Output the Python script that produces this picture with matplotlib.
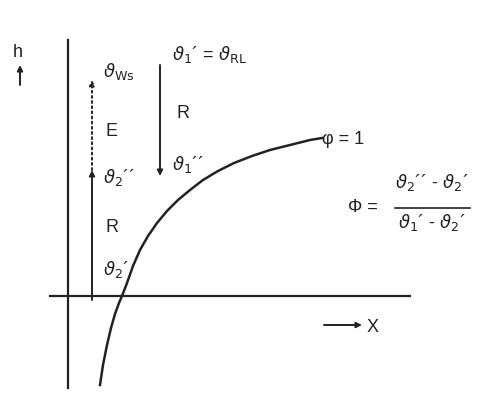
import matplotlib
matplotlib.use("Agg")
import matplotlib.pyplot as plt

plt.rcParams["font.family"] = ["Liberation Sans", "DejaVu Sans"]
plt.rcParams["mathtext.fontset"] = "dejavusans"

# curve, in pixel coordinates (x right, y down)
curve_x = [100, 103, 107, 111, 115, 119, 122, 127, 133, 140, 148, 157, 167, 178, 190, 203, 218, 234, 252, 270, 290, 310, 322]
curve_y = [385, 365, 345, 328, 314, 303, 296, 283, 266, 250, 236, 223, 211, 200, 190, 180, 171, 163, 156, 150, 145, 140, 138]

fig = plt.figure(figsize=(4.94, 4.0), dpi=100)
ax = fig.add_axes([0, 0, 1, 1])
ax.set_xlim(0, 494)
ax.set_ylim(400, 0)
ax.axis("off")

lc = "#222222"
ax.plot([68, 68], [40, 388], color=lc, lw=1.6)
ax.plot([50, 410], [296, 296], color=lc, lw=1.6)
ax.plot(curve_x, curve_y, color=lc, lw=1.8, solid_joinstyle="round")

def arrow(x0, y0, x1, y1, ls="-"):
    ax.annotate("", xy=(x1, y1), xytext=(x0, y0),
                arrowprops=dict(arrowstyle="-|>", color=lc, lw=1.4, ls=ls,
                                mutation_scale=8, shrinkA=0, shrinkB=0))

arrow(20, 85, 20, 65)
arrow(92, 300, 92, 170)
arrow(92, 170, 92, 80, ls=":")
arrow(160, 65, 160, 176)
arrow(324, 325, 362, 325)

fs = 13
ax.text(13, 57, "h", fontsize=fs, color=lc)
ax.text(103, 82, r"$\vartheta_{\mathrm{Ws}}$", fontsize=fs, color=lc, va="bottom")
ax.text(105, 132, "E", fontsize=fs, color=lc, va="center")
ax.text(103, 188, r"$\vartheta_2$´´", fontsize=fs, color=lc, va="bottom")
ax.text(105, 227, "R", fontsize=fs, color=lc, va="center")
ax.text(103, 280, r"$\vartheta_2$´", fontsize=fs, color=lc, va="bottom")
ax.text(172, 65, r"$\vartheta_1$´ = $\vartheta_{\mathrm{RL}}$", fontsize=fs, color=lc, va="bottom")
ax.text(176, 113, "R", fontsize=fs, color=lc, va="center")
ax.text(172, 175, r"$\vartheta_1$´´", fontsize=fs, color=lc, va="bottom")
ax.text(322, 140, "φ = 1", fontsize=fs, color=lc, va="center")
ax.text(348, 208, "Φ =", fontsize=fs, color=lc, va="center")
ax.text(432, 193, r"$\vartheta_2$´´ - $\vartheta_2$´", fontsize=fs, color=lc, ha="center", va="bottom")
ax.plot([395, 470], [208, 208], color=lc, lw=1.2)
ax.text(432, 212, r"$\vartheta_1$´ - $\vartheta_2$´", fontsize=fs, color=lc, ha="center", va="top")
ax.text(367, 327, "X", fontsize=fs, color=lc, va="center")

fig.savefig("out.png", dpi=100)
